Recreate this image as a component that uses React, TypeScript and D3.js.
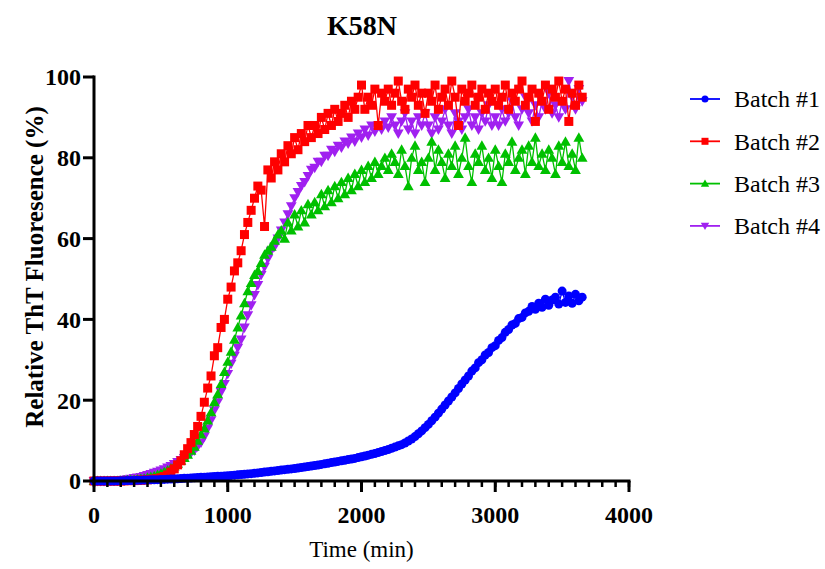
import React from "react";
import * as d3 from "d3";

const times: number[] = d3.range(0, 3651, 25);

const batch1: number[] = [
  0, 0, 0, 0, 0, 0, 0, 0.02, 0.05, 0.07, 0.1, 0.12, 0.15, 0.17, 0.2, 0.22, 0.25, 0.28, 0.3, 0.33,
  0.35, 0.4, 0.45, 0.48, 0.5, 0.55, 0.6, 0.65, 0.7, 0.75, 0.8, 0.85, 0.9, 0.95, 1.0, 1.05, 1.1, 1.15, 1.2, 1.25,
  1.3, 1.38, 1.45, 1.52, 1.6, 1.68, 1.75, 1.82, 1.9, 2.0, 2.1, 2.2, 2.3, 2.4, 2.5, 2.6, 2.7, 2.8, 2.9, 3.0,
  3.1, 3.22, 3.35, 3.47, 3.6, 3.72, 3.85, 3.97, 4.1, 4.25, 4.4, 4.55, 4.7, 4.85, 5.0, 5.15, 5.3, 5.45, 5.6, 5.8,
  6.0, 6.2, 6.4, 6.6, 6.8, 7.05, 7.3, 7.55, 7.8, 8.1, 8.4, 8.7, 9.0, 9.4, 9.9, 10.4, 11.0, 11.7, 12.4, 13.2,
  14.0, 14.9, 15.8, 16.8, 17.8, 18.8, 19.8, 20.8, 21.8, 22.9, 24.0, 25.0, 26.0, 27.2, 28.0, 29.3, 30.0, 31.2, 31.8, 33.0,
  33.5, 34.8, 35.5, 36.8, 37.5, 38.6, 39.0, 40.2, 40.5, 41.6, 42.0, 43.2, 42.5, 44.0, 43.0, 45.0, 43.5, 44.8, 45.5, 43.8,
  47.0, 44.2, 45.8, 44.0, 46.2, 44.6, 45.5,
];

const batch2: number[] = [
  0, 0, 0, 0, 0, 0, 0, 0, 0, 0.05, 0.1, 0.1, 0.1, 0.15, 0.2, 0.25, 0.3, 0.4, 0.5, 0.6,
  0.8, 1.1, 1.5, 2.2, 3, 4, 5, 6.5, 8, 9.5, 11.5, 13.5, 16, 19.5, 23, 26, 31, 33, 38, 40,
  45, 48, 52, 54, 57, 61, 64, 67, 70, 73, 72, 63, 77, 75, 79, 77, 81, 79, 83, 81,
  85, 82, 86, 84, 88, 85, 88, 86, 90, 87, 91, 88, 92, 89, 91, 93, 90, 94, 92, 95,
  98, 92, 95, 93, 97, 88, 96, 94, 97, 93, 96, 99, 94, 92, 97, 95, 98, 93, 96, 91,
  96, 94, 98, 92, 95, 97, 93, 99, 95, 88, 97, 94, 96, 98, 93, 95, 97, 92, 96, 94,
  97, 93, 95, 98, 92, 96, 94, 97, 99, 93, 95, 97, 89, 96, 94, 98, 92, 97, 95, 99,
  94, 97, 89, 96, 93, 98, 95,
];

const batch3: number[] = [
  0, 0, 0, 0, 0, 0, 0, 0.05, 0.1, 0.15, 0.2, 0.25, 0.3, 0.4, 0.5, 0.6, 0.8, 1.0, 1.2, 1.5,
  1.8, 2.2, 2.6, 3.1, 3.6, 4.3, 5, 5.7, 6.5, 7.5, 8.5, 10, 11.5, 13, 15, 17, 19.5, 21.5, 24, 27,
  29.5, 32, 35, 38, 41, 44, 47, 49, 51, 52, 54, 56, 57, 58, 59.5, 61, 62, 60, 64, 62,
  66, 63, 67, 64, 68.5, 66, 69, 67, 71, 68, 72, 69, 73, 70, 74, 71, 75, 72, 76, 73,
  77, 74, 78, 75, 79, 76, 78, 80, 77, 81, 79, 76, 82, 78, 73, 80, 83, 77, 79, 74,
  80, 84, 77, 82, 79, 75, 81, 78, 83, 76, 80, 85, 78, 74, 81, 79, 83, 77, 80, 75,
  82, 78, 74, 81, 79, 84, 77, 80, 82, 76, 83, 79, 85, 78, 81, 77, 82, 80, 76, 83,
  79, 84, 78, 81, 77, 85, 80,
];

const batch4: number[] = [
  0, 0, 0, 0, 0, 0.05, 0.1, 0.15, 0.2, 0.3, 0.4, 0.55, 0.7, 0.85, 1.0, 1.2, 1.5, 1.7, 2.0, 2.3,
  2.6, 2.9, 3.3, 3.7, 4.2, 4.7, 5.2, 5.7, 6.3, 6.9, 7.5, 8.5, 9.5, 11, 13, 15, 17.5, 19.5, 22, 24,
  26.5, 29, 31, 33, 35, 38, 41, 43.5, 46, 48.5, 51, 53, 55, 57, 58, 60, 62, 64, 66, 68,
  70, 71.5, 73, 74, 75.5, 77, 77.5, 79, 79, 80.5, 80.5, 82, 81.5, 83, 82.5, 84, 83.5, 85, 84, 86,
  85, 87, 85.5, 88, 86.5, 88, 87, 89, 87.5, 90, 88, 86, 89, 91, 87, 89, 86, 90, 88, 91,
  88, 86, 90, 87, 89, 92, 88, 86, 91, 89, 87, 90, 92, 88, 90, 87, 91, 89, 93, 88,
  90, 88, 92, 89, 91, 94, 90, 88, 92, 95, 91, 89, 93, 90, 94, 92, 96, 91, 93, 90,
  94, 92, 99, 95, 92, 97, 94,
];

const seriesNames: string[] = ["Batch #1", "Batch #2", "Batch #3", "Batch #4"];
const seriesColors: string[] = ["#0000ff", "#ff0000", "#00c000", "#a020f0"];
const seriesShapes: string[] = ["circle", "square", "triangleUp", "triangleDown"];
const seriesValues: number[][] = [batch1, batch2, batch3, batch4];

const xTicks: number[] = [0, 1000, 2000, 3000, 4000];
const xMinorTicks: number[] = d3.range(0, 4001, 100);
const yTicks: number[] = [0, 20, 40, 60, 80, 100];

const W = 825;
const H = 569;
const left = 94;
const right = 629;
const top = 77;
const bottom = 481;

function Marker({ shape, x, y, color, s }: { shape: string; x: number; y: number; color: string; s: number }) {
  if (shape === "circle") return <circle cx={x} cy={y} r={s * 0.5} fill={color} />;
  if (shape === "square") return <rect x={x - s / 2} y={y - s / 2} width={s} height={s} fill={color} />;
  if (shape === "triangleUp")
    return <path d={`M${x},${y - s * 0.6}L${x + s * 0.6},${y + s * 0.45}L${x - s * 0.6},${y + s * 0.45}Z`} fill={color} />;
  return <path d={`M${x},${y + s * 0.6}L${x + s * 0.6},${y - s * 0.45}L${x - s * 0.6},${y - s * 0.45}Z`} fill={color} />;
}

export default function App() {
  const x = d3.scaleLinear().domain([0, 4000]).range([left, right]);
  const y = d3.scaleLinear().domain([0, 100]).range([bottom, top]);
  const line = d3
    .line<[number, number]>()
    .x((d) => x(d[0]))
    .y((d) => y(d[1]));

  const order = [3, 2, 1, 0];
  const serif = "'Liberation Serif', 'Times New Roman', serif";

  return (
    <svg
      width={W}
      height={H}
      style={{ position: "absolute", left: 0, top: 0, background: "#fff" }}
      fontFamily={serif}
    >
      <rect x={0} y={0} width={W} height={H} fill="#fff" />
      <text x={362} y={35} textAnchor="middle" fontSize={28} fontWeight="bold">
        K58N
      </text>

      {order.map((i) => {
        const pts: [number, number][] = times.map((t, k) => [t, seriesValues[i][k]]);
        return (
          <g key={i}>
            <path d={line(pts) || ""} fill="none" stroke={seriesColors[i]} strokeWidth={1.3} />
            {pts.map((p, k) => (
              <Marker key={k} shape={seriesShapes[i]} x={x(p[0])} y={y(p[1])} color={seriesColors[i]} s={9} />
            ))}
          </g>
        );
      })}

      {/* y axis */}
      <line x1={left} x2={left} y1={top - 1.5} y2={bottom + 1.5} stroke="#000" strokeWidth={3} />
      {yTicks.map((t) => (
        <g key={t}>
          <line x1={left - 11} x2={left} y1={y(t)} y2={y(t)} stroke="#000" strokeWidth={3} />
          <text x={left - 13} y={y(t)} dy="0.35em" textAnchor="end" fontSize={24} fontWeight="bold">
            {t}
          </text>
        </g>
      ))}
      <text
        transform={`translate(43,${267}) rotate(-90)`}
        textAnchor="middle"
        fontSize={25}
        fontWeight="bold"
      >
        Relative ThT Fluoresence (%)
      </text>

      {/* x axis */}
      <line x1={left - 1.5} x2={right + 1.5} y1={bottom} y2={bottom} stroke="#000" strokeWidth={3} />
      {xMinorTicks.map((t) => (
        <line key={t} x1={x(t)} x2={x(t)} y1={bottom} y2={bottom + 6} stroke="#000" strokeWidth={2.5} />
      ))}
      {xTicks.map((t) => (
        <g key={t}>
          <line x1={x(t)} x2={x(t)} y1={bottom} y2={bottom + 11} stroke="#000" strokeWidth={3} />
          <text x={x(t)} y={523} textAnchor="middle" fontSize={24} fontWeight="bold">
            {t}
          </text>
        </g>
      ))}
      <text x={(left + right) / 2} y={557} textAnchor="middle" fontSize={23}>
        Time (min)
      </text>

      {/* legend */}
      {seriesNames.map((name, i) => {
        const ly = 99 + i * 42.3;
        return (
          <g key={name}>
            <line x1={690} x2={720} y1={ly} y2={ly} stroke={seriesColors[i]} strokeWidth={1.8} />
            <Marker shape={seriesShapes[i]} x={705} y={ly} color={seriesColors[i]} s={7} />
            <text x={734} y={ly} dy="0.35em" fontSize={24}>
              {name}
            </text>
          </g>
        );
      })}
    </svg>
  );
}
